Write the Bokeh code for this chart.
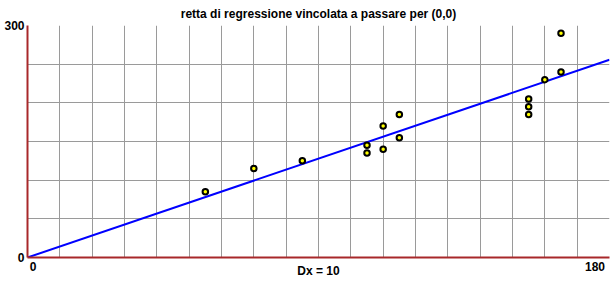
from bokeh.plotting import figure
from bokeh.models import Range1d, FixedTicker, LinearAxis
from bokeh.embed import file_html
from bokeh.resources import INLINE

# data
x_vals = [55, 70, 85, 105, 105, 110, 110, 115, 115, 155, 155, 155, 160, 165, 165]
y_vals = [85, 115, 125, 145, 135, 170, 140, 185, 155, 205, 195, 185, 230, 290, 240]

x_min, x_max, x_step = 0, 180, 10
y_min, y_max, y_step = 0, 300, 50
title_text = "retta di regressione vincolata a passare per (0,0)"
x_axis_text = "Dx = 10"

# regression through the origin
slope = sum(a * b for a, b in zip(x_vals, y_vals)) / sum(a * a for a in x_vals)

FONT = "Liberation Sans"
AXIS_RED = "#a8282a"

# layout constants (pixels)
FRAME_W = 582
LEFT_PAD_PX = 5.7    # "0" label sits right of the axis corner
RIGHT_PAD_PX = 14.5  # "180" label sits left of the right end

# a label-only range so that the end labels sit inside the corners
px_per_unit = (FRAME_W - LEFT_PAD_PX - RIGHT_PAD_PX) / (x_max - x_min)
lbl_start = x_min - LEFT_PAD_PX / px_per_unit
lbl_end = lbl_start + FRAME_W / px_per_unit

p = figure(width=612, height=281, output_backend="svg", toolbar_location=None,
           x_range=Range1d(x_min, x_max), y_range=Range1d(y_min, y_max),
           min_border_left=27, min_border_right=3, min_border_top=25, min_border_bottom=24,
           background_fill_color="white", border_fill_color="white",
           x_axis_location=None)
p.outline_line_color = None
p.extra_x_ranges = {"labels": Range1d(lbl_start, lbl_end)}

p.title.text = title_text
p.title.align = "center"
p.title.text_font = FONT
p.title.text_font_size = "12px"
p.title.text_font_style = "bold"
p.title.text_color = "black"
p.title.standoff = 9

# grid
p.xgrid.ticker = FixedTicker(ticks=list(range(x_min, x_max + 1, x_step)))
p.ygrid.ticker = FixedTicker(ticks=list(range(y_min, y_max + 1, y_step)))
for g in (p.xgrid, p.ygrid):
    g.grid_line_color = "#9a9a9a"
    g.grid_line_width = 1
    g.grid_line_alpha = 1

# y axis
ya = p.yaxis[0]
ya.ticker = FixedTicker(ticks=[y_min, y_max])
ya.axis_line_color = AXIS_RED
ya.axis_line_width = 2
ya.major_tick_line_color = None
ya.minor_tick_line_color = None
ya.major_tick_out = 0
ya.major_label_standoff = 3
ya.major_label_text_font = FONT
ya.major_label_text_font_size = "12px"
ya.major_label_text_font_style = "bold"
ya.major_label_text_color = "black"

# x axis
xa = LinearAxis(x_range_name="labels", ticker=FixedTicker(ticks=[x_min, x_max]))
xa.axis_line_color = AXIS_RED
xa.axis_line_width = 2
xa.major_tick_line_color = None
xa.minor_tick_line_color = None
xa.major_tick_out = 0
xa.major_tick_in = 0
xa.major_label_standoff = 4
xa.major_label_text_font = FONT
xa.major_label_text_font_size = "12px"
xa.major_label_text_font_style = "bold"
xa.major_label_text_color = "black"
xa.axis_label = x_axis_text
xa.axis_label_standoff = -10
xa.axis_label_text_font = FONT
xa.axis_label_text_font_size = "12px"
xa.axis_label_text_font_style = "bold"
xa.axis_label_text_color = "black"
p.add_layout(xa, "below")

# regression line
p.line([x_min, x_max], [x_min * slope, x_max * slope], line_color="#0000ff", line_width=2)

# points
p.scatter(x_vals, y_vals, size=5.5, fill_color="#ffff00", line_color="black", line_width=2)

open("out.html", "w").write(file_html(p, INLINE))
